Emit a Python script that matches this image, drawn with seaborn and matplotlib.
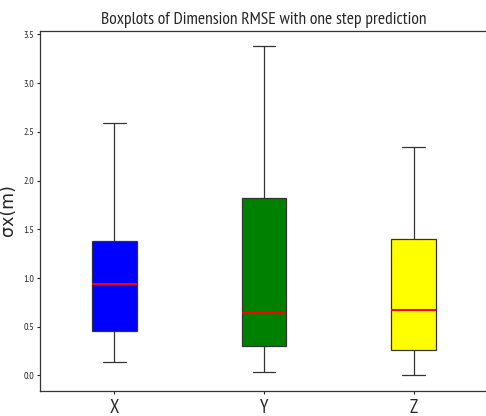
import numpy as np
import pandas as pd
import matplotlib
matplotlib.use("Agg")
import matplotlib.pyplot as plt
import seaborn as sns

# Five-number summaries (min, Q1, median, Q3, max) of the per-axis RMSE
dimensions = ["X", "Y", "Z"]
x_rmse = [0.134, 0.456, 0.937, 1.379, 2.594]
y_rmse = [0.031, 0.299, 0.641, 1.819, 3.380]
z_rmse = [0.010, 0.264, 0.676, 1.397, 2.344]
box_colors = ["blue", "green", "yellow"]
y_ticks = [0.0, 0.5, 1.0, 1.5, 2.0, 2.5, 3.0, 3.5]

df = pd.DataFrame({
    "dimension": np.repeat(dimensions, 5),
    "rmse": x_rmse + y_rmse + z_rmse,
})

sns.set_style("ticks")
narrow = ["PT Sans Narrow", "DejaVu Sans"]
plt.rcParams["font.family"] = narrow

W, H = 486, 416
fig = plt.figure(figsize=(W / 100, H / 100), dpi=100)
ax = fig.add_axes([39.5 / W, 25.5 / H, 449 / W, 360 / H])

sns.boxplot(
    data=df, x="dimension", y="rmse", hue="dimension",
    palette=dict(zip(dimensions, box_colors)), saturation=1,
    width=0.3, whis=(0, 100), linecolor="#333333", linewidth=0.9,
    medianprops=dict(color="red", linewidth=1.5),
    legend=False, ax=ax,
)

ax.set_xlim(-0.5, 2.5)
ax.set_ylim(-0.154, 3.541)
ax.set_yticks(y_ticks)
ax.set_yticklabels([f"{t:.1f}" for t in y_ticks])
ax.set_title("Boxplots of Dimension RMSE with one step prediction",
             fontsize=12.6, pad=4.8)
ax.set_xlabel("")
ax.set_ylabel("σx(m)", fontsize=12.5, family=["DejaVu Sans"], labelpad=4.5)
ax.tick_params(axis="y", labelsize=7.2, length=2.2, pad=1.5, width=0.8)
ax.tick_params(axis="x", labelsize=13.4, length=2.5, pad=3.5, width=0.8)
for side in ax.spines.values():
    side.set_color("#333333")
    side.set_linewidth(0.9)

fig.savefig("out.png", dpi=100)
